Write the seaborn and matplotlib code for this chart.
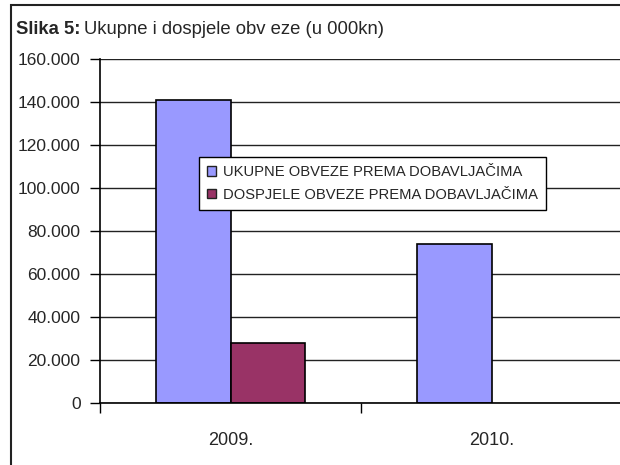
import numpy as np
import pandas as pd
import matplotlib
matplotlib.use("Agg")
import matplotlib.pyplot as plt
import seaborn as sns
from matplotlib.patches import Rectangle
from matplotlib.ticker import FuncFormatter, MultipleLocator

# podaci (u 000 kn)
godine = ["2009.", "2010."]
serije = ["UKUPNE OBVEZE PREMA DOBAVLJAČIMA", "DOSPJELE OBVEZE PREMA DOBAVLJAČIMA"]
ukupne = [141000, 74000]
dospjele = [28000, np.nan]
boje = ["#9999FF", "#993366"]

sns.set_style("white")
plt.rcParams['font.family'] = ['Liberation Sans', 'DejaVu Sans']

df = pd.DataFrame({
    "godina": godine * 2,
    "serija": [serije[0]] * 2 + [serije[1]] * 2,
    "iznos": ukupne + dospjele,
})

fig = plt.figure(figsize=(6.2, 4.65), dpi=100)
ax = fig.add_axes([100 / 620, 1 - 403 / 465, 522 / 620, 344 / 465])

sns.barplot(data=df, x="godina", y="iznos", hue="serija", hue_order=serije,
            palette=boje, width=0.57, edgecolor="black", linewidth=1.2,
            saturation=1, ax=ax, errorbar=None)

ax.set_ylim(0, 160000)
ax.set_xlim(-0.5, 1.5)
ax.yaxis.set_major_locator(MultipleLocator(20000))
ax.yaxis.set_major_formatter(FuncFormatter(lambda v, p: "0" if v == 0 else f"{v/1000:.0f}.000"))
ax.grid(axis="y", color="#222222", linewidth=1)
ax.set_axisbelow(True)
ax.set_xlabel("")
ax.set_ylabel("")

for s in ["top", "right"]:
    ax.spines[s].set_visible(False)
for s in ["left", "bottom"]:
    ax.spines[s].set_color("black")
    ax.spines[s].set_linewidth(1.2)

ax.tick_params(axis="y", left=True, length=7, width=1, color="black", labelsize=12.5, pad=7)
ax.tick_params(axis="x", which="major", length=0, labelsize=13, pad=21)
ax.set_xticks([-0.5, 0.5, 1.5], minor=True)
ax.tick_params(axis="x", which="minor", bottom=True, length=7, width=1, color="black")

leg = ax.legend(loc="upper left", bbox_to_anchor=(0.19, 0.715), fontsize=10.6,
                frameon=True, fancybox=False, edgecolor="black", framealpha=1,
                handlelength=0.6, handleheight=0.6, handletextpad=0.45,
                borderpad=0.55, labelspacing=0.6, borderaxespad=0)
leg.get_frame().set_linewidth(1)
for h in leg.legend_handles:
    h.set_edgecolor("#222222")
    h.set_linewidth(1)

# okvir slike (lijevo i gore)
fig.add_artist(Rectangle((11 / 620, -0.1), 1.2, 1.1 - 5 / 465, transform=fig.transFigure,
                         fill=False, edgecolor="#222222", linewidth=1.5))

t1 = fig.text(16 / 620, 1 - 30 / 465, "Slika 5:", fontsize=13.3, fontweight="bold", va="center")
fig.canvas.draw()
bb = t1.get_window_extent()
fig.text(bb.x1 / 620 + 4 / 620, 1 - 30 / 465, "Ukupne i dospjele obv eze (u 000kn)", fontsize=13.3, va="center")

plt.savefig("out.png", dpi=100)
